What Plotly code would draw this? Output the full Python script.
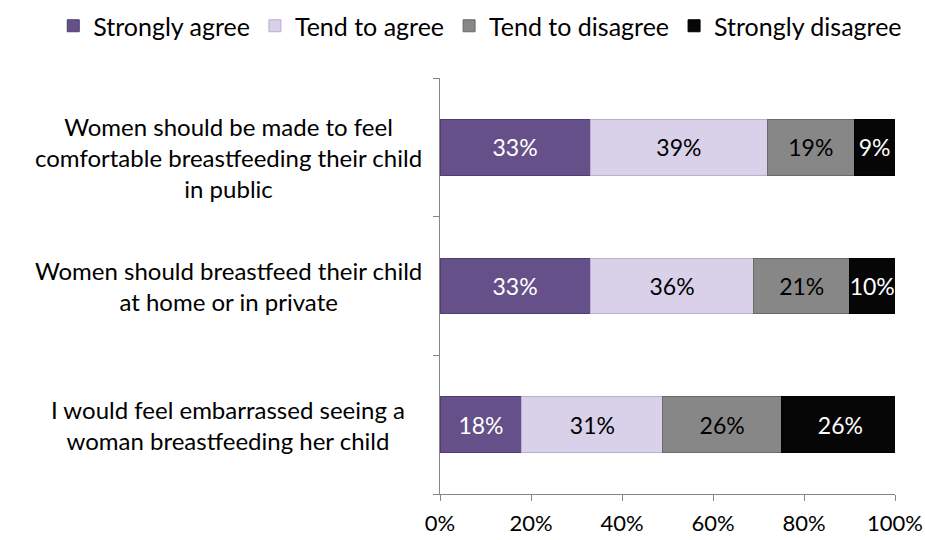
import plotly.graph_objects as go

# Survey statements (top to bottom) and their wrapped display text
statements = [
    "Women should be made to feel<br>comfortable breastfeeding their child<br>in public",
    "Women should breastfeed their child<br>at home or in private",
    "I would feel embarrassed seeing a<br>woman breastfeeding her child",
]
keys = ["s1", "s2", "s3"]

# Response shares (%) per statement, same order as statements
strongly_agree = [33, 33, 18]
tend_to_agree = [39, 36, 31]
tend_to_disagree = [19, 21, 26]
strongly_disagree = [9, 10, 26]

series_names = ["Strongly agree", "Tend to agree", "Tend to disagree", "Strongly disagree"]
series_values = [strongly_agree, tend_to_agree, tend_to_disagree, strongly_disagree]
fill_colors = ["#65508A", "#D9D1E9", "#878787", "#060606"]
edge_colors = ["#4E3D6E", "#B9B0CC", "#6A6A6A", "#000000"]
text_colors = ["white", "black", "black", "white"]

x_ticks = [0, 20, 40, 60, 80, 100]

# vertical nudge (px) of each statement label relative to its bar
label_yshift = [-10, 0, 0]

FONT = "Lato"

fig = go.Figure()
for name, vals, fc, ec, tc in zip(series_names, series_values, fill_colors, edge_colors, text_colors):
    fig.add_trace(go.Bar(
        name=name,
        y=keys,
        x=vals,
        orientation="h",
        width=0.4,
        marker=dict(color=fc, line=dict(color=ec, width=1)),
        text=[f"{v}%" for v in vals],
        textposition="inside",
        insidetextanchor="middle",
        textangle=0,
        textfont=dict(family=FONT, size=23, color=tc),
        constraintext="none",
        hoverinfo="skip",
    ))

# Centered, multi-line statement labels to the left of the axis
for k, label, dy in zip(keys, statements, label_yshift):
    fig.add_annotation(
        x=-0.465, xref="paper", y=k, yref="y",
        text=label, showarrow=False, align="center",
        xanchor="center", yanchor="middle", yshift=dy,
        font=dict(family=FONT, size=24, color="black"),
    )

fig.update_layout(
    barmode="stack",
    width=925, height=540,
    margin=dict(l=440, r=30, t=78, b=46, autoexpand=False),
    paper_bgcolor="white", plot_bgcolor="white",
    font=dict(family=FONT, color="black"),
    showlegend=True,
    legend=dict(
        orientation="h", x=-0.85, xanchor="left", xref="paper",
        y=1.125, yanchor="middle", yref="paper",
        font=dict(family=FONT, size=25, color="black"),
        traceorder="normal", itemwidth=30,
    ),
    uniformtext=dict(mode=False),
)
fig.update_xaxes(
    range=[0, 100], tickvals=x_ticks, ticktext=[f"{t}%" for t in x_ticks],
    showgrid=False, zeroline=False, showline=True, linecolor="#868686", linewidth=1,
    ticks="outside", ticklen=6, tickcolor="#868686",
    ticklabeloverflow="allow", ticklabelstandoff=4,
    tickfont=dict(family=FONT, size=22, color="black"),
)
fig.update_yaxes(
    categoryorder="array", categoryarray=keys[::-1], autorange=True,
    showgrid=False, zeroline=False, showline=True, linecolor="#868686", linewidth=1,
    ticks="outside", ticklen=6, tickcolor="#868686", tickson="boundaries",
    showticklabels=False,
)

fig.write_html("out.html")
